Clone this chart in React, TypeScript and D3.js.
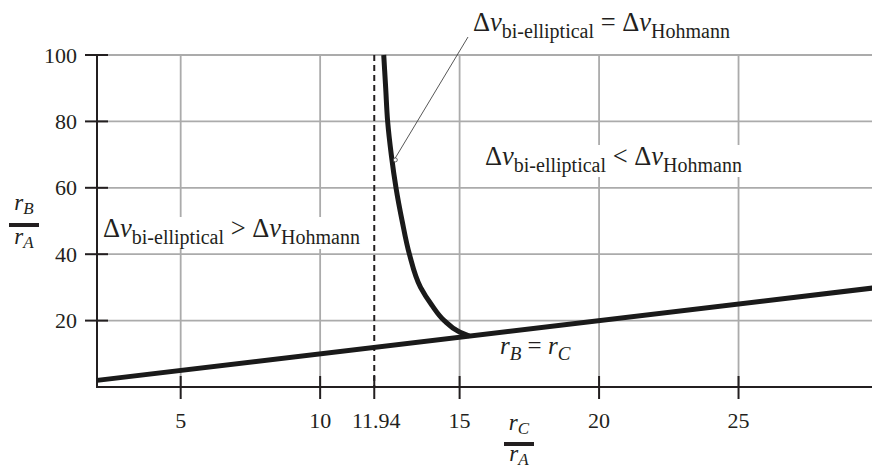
import React, { useEffect, useRef } from "react";
import * as d3 from "d3";

const X_TICKS = [5, 10, 11.94, 15, 20, 25];
const X_GRID = [5, 10, 15, 20, 25];
const Y_TICKS = [20, 40, 60, 80, 100];
const CRITICAL_RATIO = 11.94;

// r_B = r_C line
const LINE_X = [2, 30];
const LINE_Y = [2, 30];

// Boundary where Δv bi-elliptical = Δv Hohmann
const CURVE_X = [12.28, 12.35, 12.42, 12.55, 12.72, 12.94, 13.2, 13.6, 14.0, 14.45, 14.95, 15.35];
const CURVE_Y = [100, 90, 80, 70, 60, 50, 40, 30, 24.7, 20, 16.8, 15.35];

const ANNOT_POINT = [12.66, 68.4];

const W = 872;
const H = 470;
const FONT = "Liberation Serif, DejaVu Serif, Times New Roman, serif";
const INK = "#231f20";

export default function App() {
  const ref = useRef<SVGSVGElement | null>(null);

  useEffect(() => {
    const svg = d3.select(ref.current);
    svg.selectAll("*").remove();

    const x = d3.scaleLinear().domain([2, 30]).range([97, 878]);
    const y = d3.scaleLinear().domain([0, 100]).range([387, 55]);

    const g = svg.append("g");

    // grid
    g.selectAll("line.vg")
      .data(X_GRID)
      .join("line")
      .attr("x1", (d) => x(d))
      .attr("x2", (d) => x(d))
      .attr("y1", y(100))
      .attr("y2", y(0))
      .attr("stroke", "#ababab")
      .attr("stroke-width", 1.8);
    g.selectAll("line.hg")
      .data(Y_TICKS)
      .join("line")
      .attr("x1", x(2))
      .attr("x2", W)
      .attr("y1", (d) => y(d))
      .attr("y2", (d) => y(d))
      .attr("stroke", "#ababab")
      .attr("stroke-width", 1.8);

    // region labels with white background
    const dvLabel = (px: number, py: number, op: string, bg: boolean) => {
      const t = g
        .append("text")
        .attr("x", px)
        .attr("y", py)
        .attr("font-family", FONT)
        .attr("font-size", 26.5)
        .attr("fill", INK);
      t.append("tspan").text("Δ");
      t.append("tspan").attr("font-style", "italic").text("v");
      t.append("tspan").attr("font-size", 20).attr("dy", 7).text("bi-elliptical");
      t.append("tspan").attr("dy", -7).text(" " + op + " Δ");
      t.append("tspan").attr("font-style", "italic").text("v");
      t.append("tspan").attr("font-size", 20).attr("dy", 7).text("Hohmann");
      if (bg) {
        const b = (t.node() as SVGTextElement).getBBox();
        g.insert("rect", "text")
          .attr("x", b.x - 2)
          .attr("y", b.y + 4)
          .attr("width", b.width + 4)
          .attr("height", b.height - 4)
          .attr("fill", "white");
      }
      return t;
    };
    dvLabel(103, 237, ">", true);
    dvLabel(485, 165, "<", true);
    dvLabel(473, 31, "=", false);

    // dashed critical line
    g.append("line")
      .attr("x1", x(CRITICAL_RATIO))
      .attr("x2", x(CRITICAL_RATIO))
      .attr("y1", y(100))
      .attr("y2", y(0))
      .attr("stroke", INK)
      .attr("stroke-width", 2)
      .attr("stroke-dasharray", "6,4");

    // axes
    g.append("line")
      .attr("x1", x(2))
      .attr("x2", x(2))
      .attr("y1", y(100))
      .attr("y2", y(0))
      .attr("stroke", INK)
      .attr("stroke-width", 2);
    g.append("line")
      .attr("x1", x(2) - 1)
      .attr("x2", W)
      .attr("y1", y(0))
      .attr("y2", y(0))
      .attr("stroke", INK)
      .attr("stroke-width", 2);

    // y ticks
    g.selectAll("line.yt")
      .data(Y_TICKS)
      .join("line")
      .attr("x1", x(2) - 12)
      .attr("x2", x(2) + 11)
      .attr("y1", (d) => y(d))
      .attr("y2", (d) => y(d))
      .attr("stroke", INK)
      .attr("stroke-width", 2);
    g.selectAll("text.yl")
      .data(Y_TICKS)
      .join("text")
      .attr("x", 77)
      .attr("y", (d) => y(d) + 7.5)
      .attr("text-anchor", "end")
      .attr("font-family", FONT)
      .attr("font-size", 22)
      .attr("fill", INK)
      .text((d) => String(d));

    // x ticks
    g.selectAll("line.xt")
      .data(X_TICKS)
      .join("line")
      .attr("x1", (d) => x(d))
      .attr("x2", (d) => x(d))
      .attr("y1", y(0) - 11)
      .attr("y2", y(0) + 12)
      .attr("stroke", INK)
      .attr("stroke-width", 2);
    g.selectAll("text.xl")
      .data(X_TICKS)
      .join("text")
      .attr("x", (d) => x(d) + (d === CRITICAL_RATIO ? 2 : 0))
      .attr("y", 428)
      .attr("text-anchor", "middle")
      .attr("font-family", FONT)
      .attr("font-size", 22)
      .attr("fill", INK)
      .text((d) => String(d));

    // r_B = r_C line
    const lineGen = d3
      .line<number>()
      .x((d) => x(LINE_X[d]))
      .y((d) => y(LINE_Y[d]));
    g.append("path")
      .attr("d", lineGen(d3.range(LINE_X.length)))
      .attr("fill", "none")
      .attr("stroke", "#1a1a1a")
      .attr("stroke-width", 5);

    // boundary curve
    const curveGen = d3
      .line<number>()
      .x((d) => x(CURVE_X[d]))
      .y((d) => y(CURVE_Y[d]))
      .curve(d3.curveMonotoneY);
    g.append("path")
      .attr("d", curveGen(d3.range(CURVE_X.length)))
      .attr("fill", "none")
      .attr("stroke", "#1a1a1a")
      .attr("stroke-width", 5);

    // leader line
    const ax = x(ANNOT_POINT[0]);
    const ay = y(ANNOT_POINT[1]);
    g.append("line")
      .attr("x1", 468)
      .attr("y1", 37)
      .attr("x2", ax + 1)
      .attr("y2", ay - 2)
      .attr("stroke", "#444")
      .attr("stroke-width", 0.9);
    g.append("circle")
      .attr("cx", ax + 1)
      .attr("cy", ay)
      .attr("r", 2)
      .attr("fill", "white")
      .attr("stroke", "#444")
      .attr("stroke-width", 0.8);

    // r_B = r_C label
    const lt = g
      .append("text")
      .attr("x", 500)
      .attr("y", 354)
      .attr("font-family", FONT)
      .attr("font-size", 25)
      .attr("fill", INK);
    lt.append("tspan").attr("font-style", "italic").text("r");
    lt.append("tspan").attr("font-style", "italic").attr("font-size", 19).attr("dy", 6).text("B");
    lt.append("tspan").attr("dy", -6).text(" = ");
    lt.append("tspan").attr("font-style", "italic").text("r");
    lt.append("tspan").attr("font-style", "italic").attr("font-size", 19).attr("dy", 6).text("C");

    // fraction axis labels
    const frac = (cx: number, topBase: number, barY: number, botBase: number, topSub: string) => {
      const mk = (base: number, sub: string) => {
        const t = g
          .append("text")
          .attr("x", cx)
          .attr("y", base)
          .attr("text-anchor", "middle")
          .attr("font-family", FONT)
          .attr("font-style", "italic")
          .attr("font-size", 23)
          .attr("fill", INK);
        t.append("tspan").text("r");
        t.append("tspan").attr("font-size", 17).attr("dy", 4).text(sub);
      };
      mk(topBase, topSub);
      g.append("rect")
        .attr("x", cx - 15)
        .attr("y", barY - 2)
        .attr("width", 30)
        .attr("height", 4)
        .attr("fill", INK);
      mk(botBase, "A");
    };
    frac(24, 210, 225, 244, "B");
    frac(519, 430, 444, 461, "C");
  }, []);

  return (
    <svg
      ref={ref}
      width={W}
      height={H}
      style={{ position: "absolute", left: 0, top: 0, background: "white" }}
    />
  );
}
